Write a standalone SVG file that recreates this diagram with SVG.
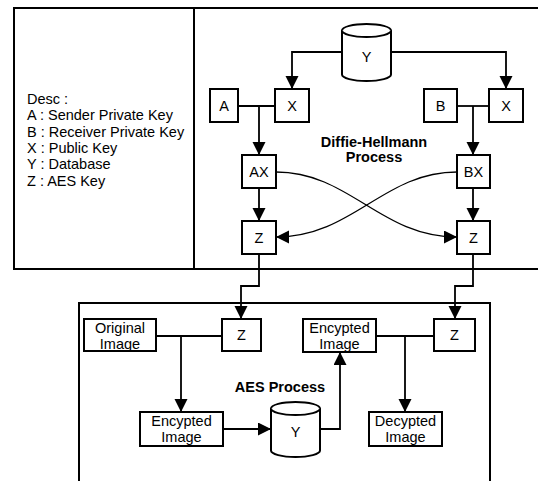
<svg xmlns="http://www.w3.org/2000/svg" width="538" height="481" viewBox="0 0 538 481">
<style>
.box{fill:#fff;stroke:#000;stroke-width:2}
.pan{fill:none;stroke:#000;stroke-width:2}
.ln{fill:none;stroke:#000;stroke-width:1.8}
.cv{fill:none;stroke:#000;stroke-width:1.3}
text{font-family:"Liberation Sans",Arial,sans-serif;font-size:14.5px;fill:#000}
.c{text-anchor:middle;dominant-baseline:central}
.b{font-weight:bold}
</style>
<defs>
<marker id="ah" markerUnits="userSpaceOnUse" markerWidth="14" markerHeight="14" refX="13" refY="6.5" orient="auto">
<path d="M0,0 L13,6.5 L0,13 z" fill="#000"/>
</marker>
</defs>
<rect width="538" height="481" fill="#fff"/>
<g id="panels">
<rect class="pan" x="14" y="8" width="540" height="261"/>
<line class="pan" x1="194" y1="8" x2="194" y2="269"/>
<rect class="pan" x="79" y="303" width="411" height="200"/>
</g>
<g id="desc">
<text x="27" y="99" dominant-baseline="central">Desc :</text>
<text x="27" y="115.3" dominant-baseline="central">A : Sender Private Key</text>
<text x="27" y="131.6" dominant-baseline="central">B : Receiver Private Key</text>
<text x="27" y="147.9" dominant-baseline="central">X : Public Key</text>
<text x="27" y="164.2" dominant-baseline="central">Y : Database</text>
<text x="27" y="180.5" dominant-baseline="central">Z : AES Key</text>
</g>
<g id="labels">
<text class="c b" x="374" y="141.5">Diffie-Hellmann</text>
<text class="c b" x="374" y="157">Process</text>
<text class="c b" x="280" y="387">AES Process</text>
</g>
<g id="connectors">
<path class="ln" d="M342,52 H292 V89" marker-end="url(#ah)"/>
<path class="ln" d="M391,52 H506 V89" marker-end="url(#ah)"/>
<path class="ln" d="M238,106 H275"/>
<path class="ln" d="M259,106 V155" marker-end="url(#ah)"/>
<path class="ln" d="M457,106 H489"/>
<path class="ln" d="M473,106 V155" marker-end="url(#ah)"/>
<path class="ln" d="M259,188 V221" marker-end="url(#ah)"/>
<path class="ln" d="M473,188 V221" marker-end="url(#ah)"/>
<path class="cv" d="M276,172 C350,172 380,237 457,237" marker-end="url(#ah)"/>
<path class="cv" d="M457,172 C383,172 353,237 276,237" marker-end="url(#ah)"/>
<path class="ln" d="M259,254 V286 H241 V319" marker-end="url(#ah)"/>
<path class="ln" d="M473,254 V286 H455 V319" marker-end="url(#ah)"/>
<path class="ln" d="M156,336 H222"/>
<path class="ln" d="M181,336 V412" marker-end="url(#ah)"/>
<path class="ln" d="M223,429 H271" marker-end="url(#ah)"/>
<path class="ln" d="M320,429 H340 V352" marker-end="url(#ah)"/>
<path class="ln" d="M376,336 H434"/>
<path class="ln" d="M405,336 V412" marker-end="url(#ah)"/>
</g>
<g id="node-Y-top">
<path class="box" d="M342,30.5 A24.5,6.5 0 0 1 391,30.5 V74.5 A24.5,6.5 0 0 1 342,74.5 Z"/>
<path class="box" fill="none" d="M342,30.5 A24.5,6.5 0 0 0 391,30.5"/>
<text class="c" x="366.5" y="57">Y</text>
</g>
<g id="node-A"><rect class="box" x="210" y="89" width="28" height="33"/><text class="c" x="224" y="105.5">A</text></g>
<g id="node-X-left"><rect class="box" x="275" y="89" width="34" height="33"/><text class="c" x="292" y="105.5">X</text></g>
<g id="node-B"><rect class="box" x="424" y="89" width="33" height="33"/><text class="c" x="440.5" y="105.5">B</text></g>
<g id="node-X-right"><rect class="box" x="489" y="89" width="34" height="33"/><text class="c" x="506" y="105.5">X</text></g>
<g id="node-AX"><rect class="box" x="242" y="155" width="34" height="33"/><text class="c" x="259" y="171.5">AX</text></g>
<g id="node-BX"><rect class="box" x="457" y="155" width="33" height="33"/><text class="c" x="473.5" y="171.5">BX</text></g>
<g id="node-Z-left"><rect class="box" x="242" y="221" width="34" height="33"/><text class="c" x="259" y="237.5">Z</text></g>
<g id="node-Z-right"><rect class="box" x="457" y="221" width="33" height="33"/><text class="c" x="473.5" y="237.5">Z</text></g>
<g id="node-original"><rect class="box" x="84" y="319" width="72" height="32"/><text class="c" x="120" y="327.5">Original</text><text class="c" x="120" y="343.5">Image</text></g>
<g id="node-Z-aes-left"><rect class="box" x="222" y="319" width="39" height="32"/><text class="c" x="241.5" y="335">Z</text></g>
<g id="node-enc-right"><rect class="box" x="303" y="319" width="73" height="33"/><text class="c" x="339.5" y="328">Encypted</text><text class="c" x="339.5" y="344">Image</text></g>
<g id="node-Z-aes-right"><rect class="box" x="434" y="319" width="41" height="32"/><text class="c" x="454.5" y="335">Z</text></g>
<g id="node-enc-left"><rect class="box" x="140" y="412" width="83" height="34"/><text class="c" x="181.5" y="421">Encypted</text><text class="c" x="181.5" y="437">Image</text></g>
<g id="node-Y-bottom">
<path class="box" d="M271,408.5 A24.5,6.5 0 0 1 320,408.5 V450.5 A24.5,6.5 0 0 1 271,450.5 Z"/>
<path class="box" fill="none" d="M271,408.5 A24.5,6.5 0 0 0 320,408.5"/>
<text class="c" x="295.5" y="432">Y</text>
</g>
<g id="node-dec"><rect class="box" x="369" y="412" width="73" height="34"/><text class="c" x="405.5" y="421">Decypted</text><text class="c" x="405.5" y="437">Image</text></g>
</svg>
